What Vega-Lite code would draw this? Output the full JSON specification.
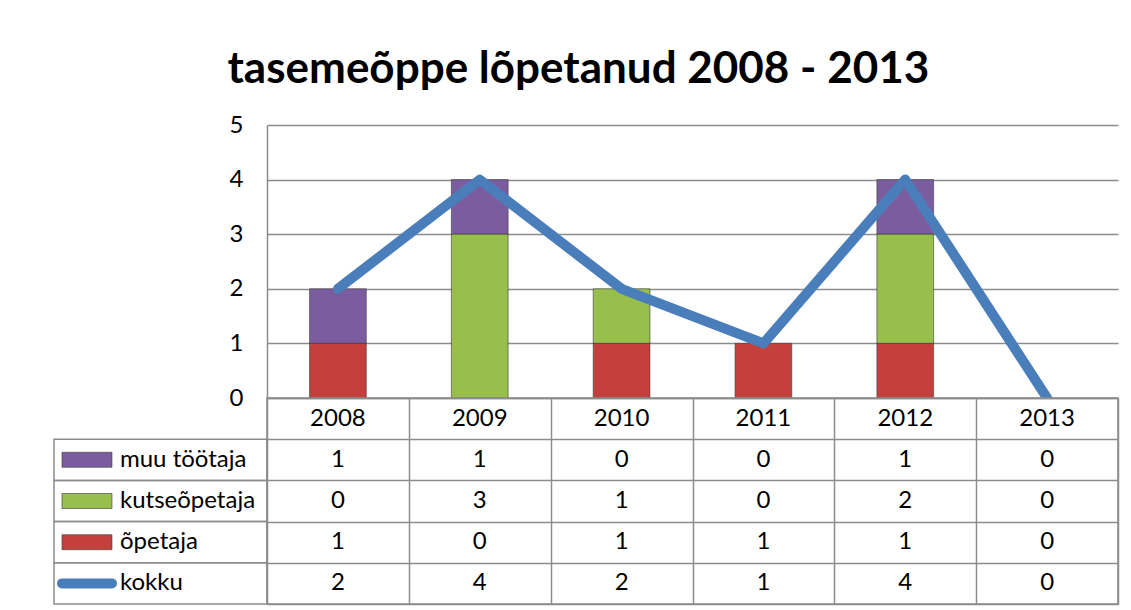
{
  "$schema": "https://vega.github.io/schema/vega-lite/v6.json",
  "padding": {"left": 41, "top": 48, "right": 13, "bottom": 5},
  "background": "white",
  "title": {"text": "tasemeõppe lõpetanud 2008 - 2013", "font": "Lato", "fontSize": 44, "fontWeight": "bold", "color": "black", "anchor": "middle", "dx": -2, "offset": 21},
  "config": {
    "view": {"stroke": null},
    "font": "Lato",
    "text": {"font": "Lato", "fontSize": 24, "color": "black"}
  },
  "datasets": {
    "d": [
      {"year": "2008", "series": "muu töötaja", "value": 1},
      {"year": "2008", "series": "kutseõpetaja", "value": 0},
      {"year": "2008", "series": "õpetaja", "value": 1},
      {"year": "2008", "series": "kokku", "value": 2},
      {"year": "2009", "series": "muu töötaja", "value": 1},
      {"year": "2009", "series": "kutseõpetaja", "value": 3},
      {"year": "2009", "series": "õpetaja", "value": 0},
      {"year": "2009", "series": "kokku", "value": 4},
      {"year": "2010", "series": "muu töötaja", "value": 0},
      {"year": "2010", "series": "kutseõpetaja", "value": 1},
      {"year": "2010", "series": "õpetaja", "value": 1},
      {"year": "2010", "series": "kokku", "value": 2},
      {"year": "2011", "series": "muu töötaja", "value": 0},
      {"year": "2011", "series": "kutseõpetaja", "value": 0},
      {"year": "2011", "series": "õpetaja", "value": 1},
      {"year": "2011", "series": "kokku", "value": 1},
      {"year": "2012", "series": "muu töötaja", "value": 1},
      {"year": "2012", "series": "kutseõpetaja", "value": 2},
      {"year": "2012", "series": "õpetaja", "value": 1},
      {"year": "2012", "series": "kokku", "value": 4},
      {"year": "2013", "series": "muu töötaja", "value": 0},
      {"year": "2013", "series": "kutseõpetaja", "value": 0},
      {"year": "2013", "series": "õpetaja", "value": 0},
      {"year": "2013", "series": "kokku", "value": 0}
    ]
  },
  "columns": 2,
  "spacing": 0,
  "bounds": "flush",
  "align": "each",
  "concat": [
    {
      "width": 213,
      "height": 273,
      "data": {"values": [{"a": 1}]},
      "mark": {"type": "text", "text": ""},
      "encoding": {}
    },
    {
      "width": 851,
      "height": 273,
      "data": {"name": "d"},
      "layer": [
        {
          "transform": [
            {"filter": "datum.series !== 'kokku' && datum.value > 0"},
            {"calculate": "indexof(['õpetaja','kutseõpetaja','muu töötaja'], datum.series)", "as": "ord"}
          ],
          "mark": {"type": "bar", "stroke": "#3a3a3a", "strokeWidth": 0.6},
          "encoding": {
            "x": {"field": "year", "type": "ordinal", "scale": {"paddingInner": 0.6, "paddingOuter": 0.3}, "axis": null},
            "y": {
              "field": "value", "type": "quantitative", "stack": "zero",
              "scale": {"domain": [0, 5], "nice": false},
              "axis": {"values": [0, 1, 2, 3, 4, 5], "grid": true, "gridColor": "#8c8c8c", "gridWidth": 1.5, "domainColor": "#8c8c8c", "domainWidth": 1.5, "ticks": false, "labelPadding": 24, "labelFontSize": 24, "labelFont": "Lato", "labelColor": "black", "title": null}
            },
            "color": {
              "field": "series", "type": "nominal",
              "scale": {"domain": ["muu töötaja", "kutseõpetaja", "õpetaja"], "range": ["#7b5d9f", "#98bf4c", "#c4403d"]},
              "legend": null
            },
            "order": {"field": "ord", "type": "quantitative"}
          }
        },
        {
          "transform": [{"filter": "datum.series === 'kokku'"}],
          "mark": {"type": "line", "color": "#4a7ebb", "strokeWidth": 10, "strokeCap": "round", "strokeJoin": "round", "clip": true},
          "encoding": {
            "x": {"field": "year", "type": "ordinal"},
            "y": {"field": "value", "type": "quantitative"}
          }
        }
      ]
    },
    {
      "width": 213,
      "height": 206,
      "data": {"name": "d"},
      "transform": [{"filter": "datum.year === '2008'"}],
      "encoding": {
        "y": {"field": "series", "type": "nominal", "scale": {"domain": ["aasta", "muu töötaja", "kutseõpetaja", "õpetaja", "kokku"], "paddingInner": 0, "paddingOuter": 0}, "axis": null}
      },
      "layer": [
        {
          "mark": {"type": "rect", "fill": "transparent", "stroke": "#8c8c8c", "strokeWidth": 1.5}
        },
        {
          "transform": [{"filter": "datum.series !== 'kokku'"}],
          "mark": {"type": "point", "shape": "M-1,-0.3H1V0.3H-1Z", "size": 2500, "filled": true, "opacity": 1, "stroke": "#3a3a3a", "strokeWidth": 0.6},
          "encoding": {
            "x": {"datum": "sym", "type": "nominal", "scale": {"type": "band", "domain": ["sym", "txt", "pad"], "paddingInner": 0, "paddingOuter": 0.114, "align": 0}, "axis": null},
            "color": {
              "field": "series", "type": "nominal",
              "scale": {"domain": ["muu töötaja", "kutseõpetaja", "õpetaja"], "range": ["#7b5d9f", "#98bf4c", "#c4403d"]},
              "legend": null
            }
          }
        },
        {
          "transform": [{"filter": "datum.series === 'kokku'"}],
          "mark": {"type": "point", "shape": "M-1,0H1", "size": 2500, "filled": false, "opacity": 1, "stroke": "#4a7ebb", "strokeWidth": 10, "strokeCap": "round"},
          "encoding": {
            "x": {"datum": "sym", "type": "nominal"}
          }
        },
        {
          "mark": {"type": "text", "align": "left", "baseline": "middle", "fontSize": 24},
          "encoding": {
            "x": {"datum": "txt", "type": "nominal", "bandPosition": 0},
            "text": {"field": "series"}
          }
        }
      ]
    },
    {
      "width": 851,
      "height": 206,
      "data": {"name": "d"},
      "view": {"stroke": "#8c8c8c", "strokeWidth": 1.5},
      "encoding": {
        "x": {"field": "year", "type": "ordinal", "scale": {"paddingInner": 0, "paddingOuter": 0}, "axis": {"grid": true, "tickBand": "extent", "gridColor": "#8c8c8c", "gridWidth": 1.5, "labels": false, "ticks": false, "domain": false, "title": null}}
      },
      "layer": [
        {
          "mark": {"type": "text", "fontSize": 24, "baseline": "middle"},
          "encoding": {
            "y": {"field": "series", "type": "nominal", "scale": {"domain": ["aasta", "muu töötaja", "kutseõpetaja", "õpetaja", "kokku"], "paddingInner": 0, "paddingOuter": 0}, "axis": {"grid": true, "tickBand": "extent", "gridColor": "#8c8c8c", "gridWidth": 1.5, "labels": false, "ticks": false, "domain": false, "title": null}},
            "text": {"field": "value", "type": "quantitative"}
          }
        },
        {
          "transform": [{"filter": "datum.series === 'kokku'"}],
          "mark": {"type": "text", "fontSize": 24, "baseline": "middle"},
          "encoding": {
            "y": {"datum": "aasta", "type": "nominal"},
            "text": {"field": "year"}
          }
        }
      ]
    }
  ]
}
